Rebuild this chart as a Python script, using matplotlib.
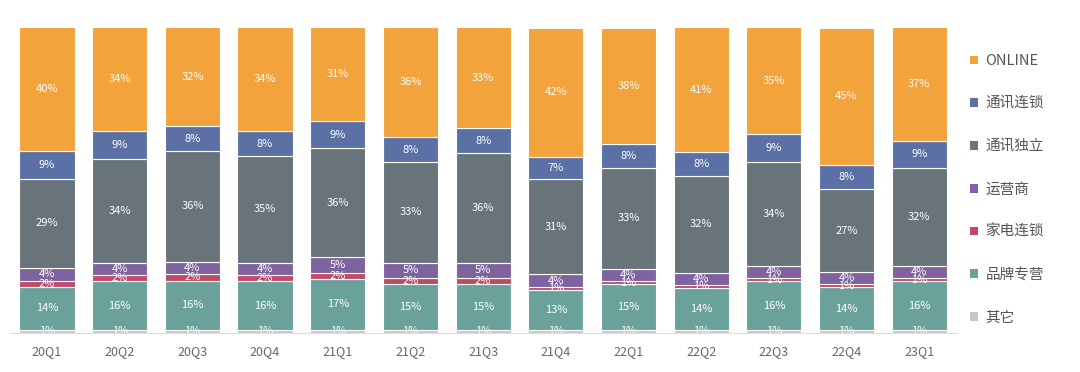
import numpy as np
import matplotlib.pyplot as plt
from matplotlib.patches import Patch

plt.rcParams['font.family'] = ['Noto Sans CJK SC', 'DejaVu Sans']

quarters = ['20Q1', '20Q2', '20Q3', '20Q4', '21Q1', '21Q2', '21Q3',
            '21Q4', '22Q1', '22Q2', '22Q3', '22Q4', '23Q1']

# shares in %, bottom to top
other = [1, 1, 1, 1, 1, 1, 1, 1, 1, 1, 1, 1, 1]
brand = [14, 16, 16, 16, 17, 15, 15, 13, 15, 14, 16, 14, 16]
appliance = [2, 2, 2, 2, 2, 2, 2, 1, 1, 1, 1, 1, 1]
operator = [4, 4, 4, 4, 5, 5, 5, 4, 4, 4, 4, 4, 4]
indep = [29, 34, 36, 35, 36, 33, 36, 31, 33, 32, 34, 27, 32]
chain = [9, 9, 8, 8, 9, 8, 8, 7, 8, 8, 9, 8, 9]
online = [40, 34, 32, 34, 31, 36, 33, 42, 38, 41, 35, 45, 37]

series = [
    ('其它', other, '#c6c6c6'),
    ('品牌专营', brand, '#6aa29b'),
    ('家电连锁', appliance, '#c04966'),
    ('运营商', operator, '#7e63a0'),
    ('通讯独立', indep, '#68737a'),
    ('通讯连锁', chain, '#5b71a5'),
    ('ONLINE', online, '#f2a33c'),
]

vals = np.array([s[1] for s in series], dtype=float)
totals = vals.sum(axis=0)
heights = vals / totals * 100

fig = plt.figure(figsize=(10.8, 3.72), dpi=100)
ax = fig.add_axes([10 / 1080, 1 - 333 / 372, 947 / 1080, (333 - 27.5) / 372])

x = np.arange(len(quarters))
bottom = np.zeros(len(quarters))
for (name, raw, color), h in zip(series, heights):
    ax.bar(x, h, width=0.76, bottom=bottom, color=color,
           edgecolor='white', linewidth=0.8)
    for xi, b, hi, r in zip(x, bottom, h, raw):
        ax.text(xi, b + hi / 2, f'{r}%', ha='center', va='center',
                color='white', fontsize=8, clip_on=True)
    bottom += h

ax.set_xlim(-0.51, 12.52)
ax.set_ylim(0, 100)
for s in ['top', 'right', 'left']:
    ax.spines[s].set_visible(False)
ax.spines['bottom'].set_color('#dddddd')
ax.set_yticks([])
ax.set_xticks(x)
ax.set_xticklabels(quarters, fontsize=9, color='#666666')
ax.tick_params(axis='x', length=0, pad=9)

handles = [Patch(facecolor=c, edgecolor='none') for _, _, c in series[::-1]]
labels = [n for n, _, _ in series[::-1]]
fig.legend(handles, labels, loc='upper left', bbox_to_anchor=(957 / 1080, 1 - 41 / 372),
           frameon=False, fontsize=10.5, labelcolor='#555555',
           handlelength=0.55, handleheight=0.55, handletextpad=0.5,
           labelspacing=1.97)

fig.savefig('out.png', dpi=100)
